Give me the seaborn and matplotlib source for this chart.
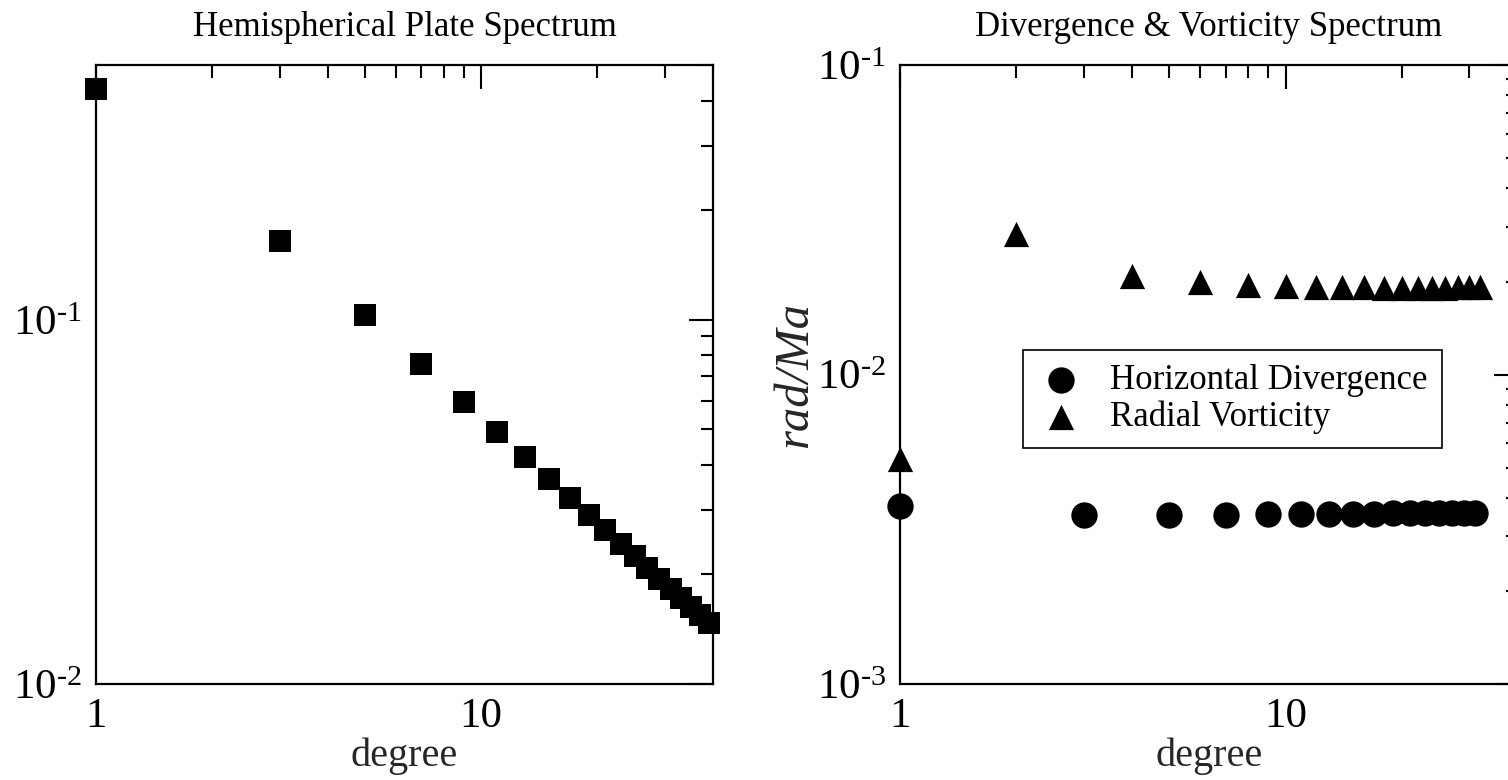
import math
import matplotlib
matplotlib.use("Agg")
import matplotlib.pyplot as plt
import seaborn as sns
import pandas as pd
from matplotlib.ticker import LogLocator, FuncFormatter, NullFormatter

# Hemispherical plate spectrum (odd degrees)
plate_degree = [1, 3, 5, 7, 9, 11, 13, 15, 17, 19, 21, 23, 25, 27, 29, 31, 33, 35, 37, 39]
plate_power = [0.4305, 0.1651, 0.1033, 0.0756, 0.0596, 0.0493, 0.0421, 0.0366, 0.0325,
               0.0291, 0.0265, 0.0243, 0.0224, 0.0208, 0.0194, 0.0182, 0.0172, 0.0163,
               0.0155, 0.0147]

# Horizontal divergence spectrum (rad/Ma)
div_degree = [1, 3, 5, 7, 9, 11, 13, 15, 17, 19, 21, 23, 25, 27, 29, 31]
div_value = [3.77e-3, 3.52e-3, 3.53e-3, 3.53e-3, 3.54e-3, 3.54e-3, 3.55e-3, 3.55e-3,
             3.55e-3, 3.56e-3, 3.56e-3, 3.56e-3, 3.56e-3, 3.57e-3, 3.57e-3, 3.57e-3]

# Radial vorticity spectrum (rad/Ma)
vort_degree = [1, 2, 4, 6, 8, 10, 12, 14, 16, 18, 20, 22, 24, 26, 28, 30, 32]
vort_value = [5.34e-3, 0.0284, 0.0209, 0.0199, 0.01945, 0.0193, 0.0192, 0.0192, 0.0192,
              0.0191, 0.0191, 0.0191, 0.0191, 0.0191, 0.0192, 0.0192, 0.0192]

panel_titles = ["Hemispherical Plate Spectrum", "Divergence & Vorticity Spectrum"]
series_labels = ["Horizontal Divergence", "Radial Vorticity"]

sns.set_style("white")
plt.rcParams["font.family"] = ["Liberation Serif", "DejaVu Serif"]
plt.rcParams["mathtext.fontset"] = "custom"
plt.rcParams["mathtext.rm"] = "Liberation Serif"
plt.rcParams["mathtext.it"] = "Liberation Serif:italic"
plt.rcParams["text.color"] = "black"

plate_df = pd.DataFrame({"degree": plate_degree, "power": plate_power})
div_df = pd.DataFrame({"degree": div_degree, "value": div_value})
vort_df = pd.DataFrame({"degree": vort_degree, "value": vort_value})

fig = plt.figure(figsize=(15.08, 7.80), dpi=100)
ax1 = fig.add_axes([0.06346, 0.12308, 0.40955, 0.79321])
ax2 = fig.add_axes([0.59682, 0.12308, 0.40955, 0.79321])

sns.scatterplot(data=plate_df, x="degree", y="power", marker="s", s=245,
                color="black", linewidth=0, clip_on=False, zorder=5, ax=ax1)
sns.scatterplot(data=div_df, x="degree", y="value", marker="o", s=360,
                color="black", linewidth=0, clip_on=False, zorder=5, ax=ax2,
                label=series_labels[0])
sns.scatterplot(data=vort_df, x="degree", y="value", marker="^", s=330,
                color="black", linewidth=0, clip_on=False, zorder=5, ax=ax2,
                label=series_labels[1])


def x_fmt(v, pos):
    return "%d" % round(v)


def y_fmt(v, pos):
    k = int(round(math.log10(v)))
    if k < 0:
        return r"$\mathregular{10^{\text{-}%d}}$" % (-k)
    return r"$\mathregular{10^{%d}}$" % k


for ax, title, ylim in [(ax1, panel_titles[0], (0.01, 0.5)),
                        (ax2, panel_titles[1], (1e-3, 0.1))]:
    ax.set_xscale("log")
    ax.set_yscale("log")
    ax.set_xlim(1, 40)
    ax.set_ylim(*ylim)
    ax.xaxis.set_major_locator(LogLocator(base=10))
    ax.xaxis.set_minor_locator(LogLocator(base=10, subs=range(2, 10)))
    ax.yaxis.set_major_locator(LogLocator(base=10))
    ax.yaxis.set_minor_locator(LogLocator(base=10, subs=range(2, 10)))
    ax.xaxis.set_major_formatter(FuncFormatter(x_fmt))
    ax.yaxis.set_major_formatter(FuncFormatter(y_fmt))
    ax.xaxis.set_minor_formatter(NullFormatter())
    ax.yaxis.set_minor_formatter(NullFormatter())
    ax.tick_params(which="both", direction="in", top=True, right=True,
                   width=1.5, colors="black")
    ax.tick_params(which="major", length=17.5, labelsize=31, pad=10)
    ax.tick_params(which="minor", length=9)
    for sp in ax.spines.values():
        sp.set_linewidth(1.6)
        sp.set_color("black")
        sp.set_visible(True)
    ax.set_title(title, fontsize=25, pad=21)
    ax.set_xlabel("degree", fontsize=29, labelpad=1)
    ax.set_ylabel("")

ax2.set_ylabel("rad/Ma", fontsize=35, fontstyle="italic", labelpad=0)

leg = ax2.legend(loc="upper left", bbox_to_anchor=(0.199, 0.54), frameon=True,
                 fancybox=False, edgecolor="black", framealpha=1, fontsize=25,
                 scatterpoints=1, handletextpad=0.72, borderpad=0.4,
                 labelspacing=0.1, handlelength=1.4, borderaxespad=0)
leg.get_frame().set_linewidth(1.2)

fig.savefig("out.png", dpi=100)
